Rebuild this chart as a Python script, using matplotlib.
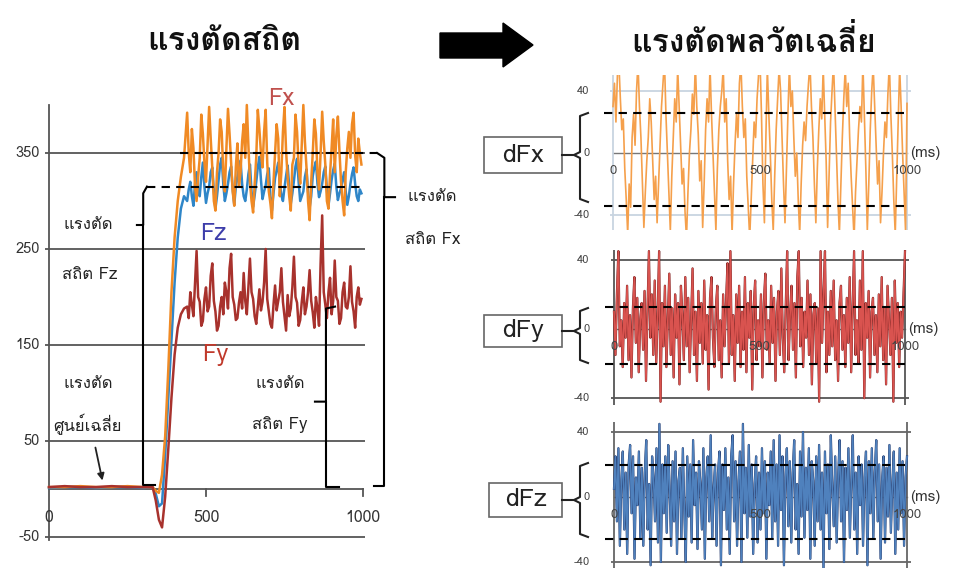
import matplotlib
matplotlib.use('Agg')
import matplotlib.pyplot as plt
from matplotlib import font_manager
from matplotlib.ft2font import FT2Font
from matplotlib.patches import Polygon, Rectangle

# ---- data ----
t_left = [0, 50, 100, 150, 200, 250, 300] + list(range(330, 440, 10)) + list(range(440, 1000, 5))

fx_static = ([2, 2, 3, 2, 2, 3, 2] +
             [2, -2, -4, 15, 55, 125, 205, 262, 300, 325, 345] +
             [392, 350, 330, 375, 355, 315, 300, 325, 345, 390, 370, 340, 320, 360, 398, 365,
              335, 300, 290, 330, 350, 385, 372, 330, 310, 355, 396, 370, 340, 310, 295, 335,
              360, 315, 330, 362, 380, 345, 400, 358, 320, 300, 288, 318, 345, 395, 375, 350,
              335, 372, 395, 340, 310, 298, 282, 320, 350, 380, 365, 305, 330, 372, 398, 352,
              325, 305, 290, 338, 345, 390, 372, 335, 318, 360, 400, 362, 335, 300, 280, 320,
              350, 385, 370, 330, 312, 350, 393, 362, 338, 300, 292, 328, 355, 385, 330, 368,
              388, 352, 320, 300, 285, 330, 355, 372, 345, 380, 392, 348, 330, 365, 350, 338])

fz_static = ([1, 2, 2, 1, 2, 2, 1] +
             [2, -5, -18, -15, 35, 95, 155, 215, 262, 292, 305] +
             [300, 312, 320, 305, 295, 318, 330, 310, 305, 325, 340, 315, 298, 308, 315, 330,
              335, 310, 292, 305, 322, 338, 345, 318, 300, 308, 318, 330, 336, 312, 296, 315,
              325, 335, 342, 318, 305, 300, 312, 328, 338, 310, 294, 306, 320, 335, 346, 322,
              302, 310, 316, 328, 334, 305, 290, 308, 324, 332, 340, 318, 306, 300, 314, 326,
              337, 315, 297, 308, 321, 336, 344, 320, 300, 305, 310, 325, 333, 310, 293, 305,
              326, 335, 341, 318, 304, 310, 318, 330, 336, 312, 295, 308, 322, 332, 339, 315,
              301, 308, 313, 322, 330, 310, 296, 305, 318, 328, 335, 318, 305, 300, 312, 308])

fy_static = ([2, 3, 2, 2, 3, 2, 2] +
             [2, -12, -32, -40, -8, 42, 95, 140, 168, 182, 188] +
             [190, 178, 205, 192, 180, 215, 248, 200, 195, 170, 175, 198, 210, 185, 190, 222,
              235, 196, 185, 165, 170, 190, 200, 182, 215, 205, 188, 230, 245, 200, 192, 176,
              178, 194, 205, 188, 225, 196, 182, 210, 240, 205, 198, 180, 172, 190, 208, 186,
              195, 215, 250, 198, 185, 172, 168, 192, 212, 186, 196, 205, 230, 195, 180, 165,
              202, 180, 188, 210, 242, 200, 194, 170, 176, 195, 210, 182, 190, 205, 228, 196,
              184, 168, 200, 188, 170, 235, 285, 205, 192, 178, 205, 220, 182, 196, 238, 200,
              196, 172, 178, 205, 215, 190, 188, 200, 232, 195, 185, 168, 200, 210, 192, 198])

static_levels = {'Fx': 350, 'Fz': 315, 'Fy': 190}

t_dyn = list(range(0, 1001, 5))

dfx = [30, 45, 20, 50, 58, 35, 15, 22, -10, -30,
       -52, -20, -35, 10, 25, 5, 40, 58, 30, 10,
       -20, -48, -25, -5, 10, 35, 20, -5, -30, -15,
       -45, -20, 5, 30, 45, 60, 25, 0, -25, -50,
       -15, 10, 35, 20, 55, 30, 5, -20, -10, -38,
       -55, -25, 0, 15, 38, 25, 58, 30, 12, -18,
       -5, -48, -20, 15, 35, 20, 56, 25, 0, -25,
       -50, -10, 15, 30, 40, 55, 20, 35, -5, -30,
       -15, -52, -20, 5, 25, 10, 45, 58, 30, 10,
       22, -15, -35, -55, -30, -5, 20, 10, 35, 50,
       60, 25, -20, -45, 10, 55, 25, 0, -30, -50,
       -15, 15, 35, 55, 40, 10, -20, -45, -10, 25,
       56, 30, 40, 10, -15, 0, -30, -52, -20, 5,
       20, 8, 30, 45, 58, 30, 10, -20, -45, -10,
       15, 35, 22, 55, 25, -5, -48, -15, 20, 40,
       58, 30, 0, -30, -52, -20, 10, 35, 55, 30,
       45, 10, -15, -35, -55, -25, -5, 15, 30, 20,
       58, 25, -10, -50, -20, 15, 40, 56, 30, 5,
       -20, -5, -45, -25, 0, 20, 10, 38, 58, 25,
       0, -30, -52, -15, 20, 55, 30, 0, -25, -50,
       32]

dfy = [10, -15, 20, 45, -10, 5, -22, 15, -5, 25,
       -18, 8, -28, 12, 30, -8, 18, -25, 5, 15,
       -12, 22, -30, 10, 45, -5, 20, -15, 28, -20,
       8, 45, -42, 15, -10, 25, -22, 5, 32, -15,
       12, -28, 20, -5, 15, -32, 25, 8, -18, 30,
       -10, 18, -25, 5, 35, -15, 10, -30, 22, -8,
       15, -20, 28, -12, 8, -35, 18, 30, -5, -22,
       12, 25, -18, 5, -28, 20, -10, 15, 38, -20,
       45, -15, 8, -30, 20, -8, 25, -22, 10, -12,
       30, -25, 15, -5, 22, -35, 12, 28, -18, 5,
       -10, 20, -28, 15, 32, -12, 5, -20, 25, -8,
       18, -30, 10, 22, -15, 35, -5, -25, 12, 45,
       -18, 8, 25, -12, 15, -28, 30, 45, -10, 18,
       -22, 10, -5, 28, -15, 20, -32, 8, 15, -20,
       12, -42, 45, -8, 20, 45, -25, 10, -15, 22,
       -10, 28, -18, 5, -30, 15, 25, -12, 8, -22,
       18, -8, 30, -25, 12, 45, -15, 5, -20, 28,
       -12, 45, -40, 15, -5, 22, -28, 10, 18, -15,
       8, -25, 20, -10, 30, -18, 12, -32, 25, 5,
       -15, 18, -42, 28, -8, 15, -22, 10, -5, 20,
       45]

dfz = [5, 25, -15, 30, -30, 10, 28, -20, 15, -35,
       20, 32, -10, 25, -38, 12, -5, 28, -25, 18,
       -30, 15, 35, -20, 8, -42, 25, 12, -15, 30,
       -28, 45, -40, 20, -10, 25, -22, 32, 5, -30,
       22, -15, 28, -35, 10, 18, -25, 30, -8, -40,
       25, -12, 20, -28, 35, -5, 15, -32, 22, 8,
       -20, 30, -38, 12, 25, -15, 38, -25, 5, 20,
       -30, 15, 28, -42, 20, -8, 30, -20, 12, -35,
       25, 38, -15, 22, -30, 10, 28, -40, 45, -10,
       18, -25, 32, -12, 20, -35, 8, 25, -28, 15,
       -20, 30, -10, 22, -38, 15, -5, 28, -25, 35,
       -15, 20, -30, 38, -8, 25, -42, 12, 30, -18,
       22, -28, 15, 35, -20, 8, -35, 28, -12, 40,
       -25, 18, -8, 30, -38, 22, 10, -30, 25, -15,
       32, -20, 15, -44, 28, -10, 20, -32, 38, 5,
       -18, 25, -28, 12, 35, -15, 22, -40, 18, -8,
       30, -25, 10, 38, -20, 15, -35, 25, -5, 20,
       -30, 12, 28, -42, 22, -10, 30, -25, 15, 35,
       -15, 20, -38, 10, 25, -28, 18, -12, 32, -22,
       8, 28, -35, 15, -20, 30, -10, 22, -30, 12,
       25]

# dashed band limits of each dynamic panel
band_fx = (26, -34)
band_fy = (13, -20)
band_fz = (20, -26)


def thai_font():
    for f in font_manager.fontManager.ttflist:
        try:
            if ord(u'แ') in FT2Font(f.fname).get_charmap():
                return f.name
        except Exception:
            pass
    return 'DejaVu Sans'


TH = thai_font()
plt.rcParams['font.family'] = [TH, 'DejaVu Sans']

W, H = 954, 568
fig = plt.figure(figsize=(W / 100, H / 100), dpi=100)


def px_axes(l, r, top, bot, x0, x1000, y0, sy):
    sx = (x1000 - x0) / 1000.0
    ax = fig.add_axes([l / W, 1 - bot / H, (r - l) / W, (bot - top) / H])
    ax.set_xlim((l - x0) / sx, (r - x0) / sx)
    ax.set_ylim((y0 - bot) / sy, (y0 - top) / sy)
    ax.axis('off')
    return ax


# ---------------- left: static force ----------------
ax = px_axes(0, 477, 60, 568, 49, 363, 489, 0.96)
grid_c = '#555555'
ax.hlines([350, 250, 150, 50, -50], -13, 1006, color=grid_c, lw=1.3)
ax.plot([0, 0], [-53, 400], color=grid_c, lw=1.3)
ax.plot([0, 1000], [0, 0], color=grid_c, lw=1.3)
for xt in [500, 1000]:
    ax.plot([xt, xt], [0, -7], color=grid_c, lw=1.3)
for yv in [350, 250, 150, 50, -50]:
    ax.text(-29, yv, str(yv), ha='right', va='center', fontsize=10.5, color='#333333')
for xv in [0, 500, 1000]:
    ax.text(xv, -30, str(xv), ha='center', va='center', fontsize=11.5, color='#333333')

ax.plot(t_left, fz_static, color='#2f86c8', lw=1.8)
ax.plot(t_left, fx_static, color='#f08a24', lw=1.8)
ax.plot(t_left, fy_static, color='#a8322d', lw=1.8)

ax.text(740, 407, 'Fx', color='#c0504d', fontsize=17, ha='center', va='center')
ax.text(522, 266, 'Fz', color='#3d3daa', fontsize=17, ha='center', va='center')
ax.text(528, 140, 'Fy', color='#c0392b', fontsize=17, ha='center', va='center')

# braces
kw = dict(color='black', lw=1.5)
ax.plot([417, 1045], [static_levels['Fx']] * 2, ls=(0, (4, 3)), **kw)
ax.plot([1045, 1068, 1068, 1102], [350, 345, 304, 304], **kw)
ax.plot([1068, 1068, 1035], [304, 3, 3], **kw)

ax.plot([312, 997], [static_levels['Fz']] * 2, ls=(0, (4, 3)), **kw)
ax.plot([312, 300, 300, 280], [315, 308, 275, 275], **kw)
ax.plot([300, 300, 338], [275, 4, 4], **kw)

ax.plot([911, 882, 882, 847], [static_levels['Fy'], 188, 91, 91], **kw)
ax.plot([882, 882, 925], [91, 2, 2], **kw)

lab = dict(fontsize=12, color='#222222', ha='center', va='center')
ax.text(1222, 304, u'แรงตัด', **lab)
ax.text(1222, 259, u'สถิต Fx', **lab)
ax.text(124, 275, u'แรงตัด', **lab)
ax.text(130, 223, u'สถิต Fz', **lab)
ax.text(736, 109, u'แรงตัด', **lab)
ax.text(736, 67, u'สถิต Fy', **lab)
ax.text(124, 109, u'แรงตัด', **lab)
ax.text(124, 67, u'ศูนย์เฉลี่ย', **lab)
ax.annotate('', xy=(172, 6), xytext=(146, 46),
            arrowprops=dict(arrowstyle='-|>', color='#222222', lw=1.3))

# ---------------- right: dynamic force ----------------
panels = [
    (dfx, band_fx, (75, 230, 613, 907, 153, 1.55), '#f5a04c', None, '#c8d4e0', 'dFx'),
    (dfy, band_fy, (250, 405, 614, 905, 329, 1.73), '#d9534f', '#6b1a1a', '#555555', 'dFy'),
    (dfz, band_fz, (422, 568, 614, 907, 497, 1.625), '#4f81bd', '#1f2f5f', '#666666', 'dFz'),
]
for vals, band, geo, col, dark, gcol, name in panels:
    top, bot, x0, x1000, y0, sy = geo
    a = px_axes(596, 918, top, bot, x0, x1000, y0, sy)
    a.hlines([40, -40], -10, 1015, color=gcol, lw=1.3)
    a.plot([0, 1000], [0, 0], color='#777777', lw=1.0)
    a.plot([0, 0], [-60, 60], color=gcol, lw=1.3)
    a.plot([1000, 1000], [-60, 60], color=gcol, lw=1.3)
    if dark is not None:
        a.plot(t_dyn, vals, color=dark, lw=1.6)
    a.plot(t_dyn, vals, color=col, lw=1.2)
    a.hlines(list(band), -30, 1000, color='black', lw=1.5, linestyles=(0, (4, 3)))
    yt = a.get_yaxis_transform()
    for yv in [40, 0, -40]:
        a.text(-0.02, yv, str(yv), transform=yt, ha='right', va='center', fontsize=8, color='#444444')
    for xv in [0, 500, 1000]:
        a.text(xv, -18 / sy, str(xv), ha='center', va='center', fontsize=9.5, color='#444444')
    a.text(1012, 0, '(ms)', ha='left', va='center', fontsize=11, color='#333333', clip_on=False)

# ---------------- overlay: titles, arrow, boxes ----------------
ov = fig.add_axes([0, 0, 1, 1])
ov.set_xlim(0, W)
ov.set_ylim(H, 0)
ov.axis('off')
ov.patch.set_alpha(0)

ov.text(224, 42, u'แรงตัดสถิต', ha='center', va='center', fontsize=23, fontweight='bold', color='#111111')
ov.text(754, 42, u'แรงตัดพลวัตเฉลี่ย', ha='center', va='center', fontsize=23, fontweight='bold', color='#111111')
ov.add_patch(Polygon([(440, 33), (503, 33), (503, 23), (533, 45), (503, 67), (503, 58), (440, 58)],
                     closed=True, color='black'))

boxes = [(484, 137, 'dFx', 155, 113, 202), (484, 315, 'dFy', 331, 308, 363), (489, 483, 'dFz', 500, 463, 537)]
for bx, by, name, cy, b0, b1 in boxes:
    ov.add_patch(Rectangle((bx, by), 562 - bx, 2 * (cy - by), fill=False, ec='#666666', lw=1.2))
    ov.text((bx + 562) / 2, cy, name, ha='center', va='center', fontsize=18, color='#222222')
    ov.plot([562, 574], [cy, cy], color='#222222', lw=1.5)
    ov.plot([588, 580, 580, 574, 580, 580, 588],
            [b0, b0 + 3, cy - 3, cy, cy + 3, b1 - 3, b1], color='#222222', lw=1.5)

fig.savefig('out.png', dpi=100)
